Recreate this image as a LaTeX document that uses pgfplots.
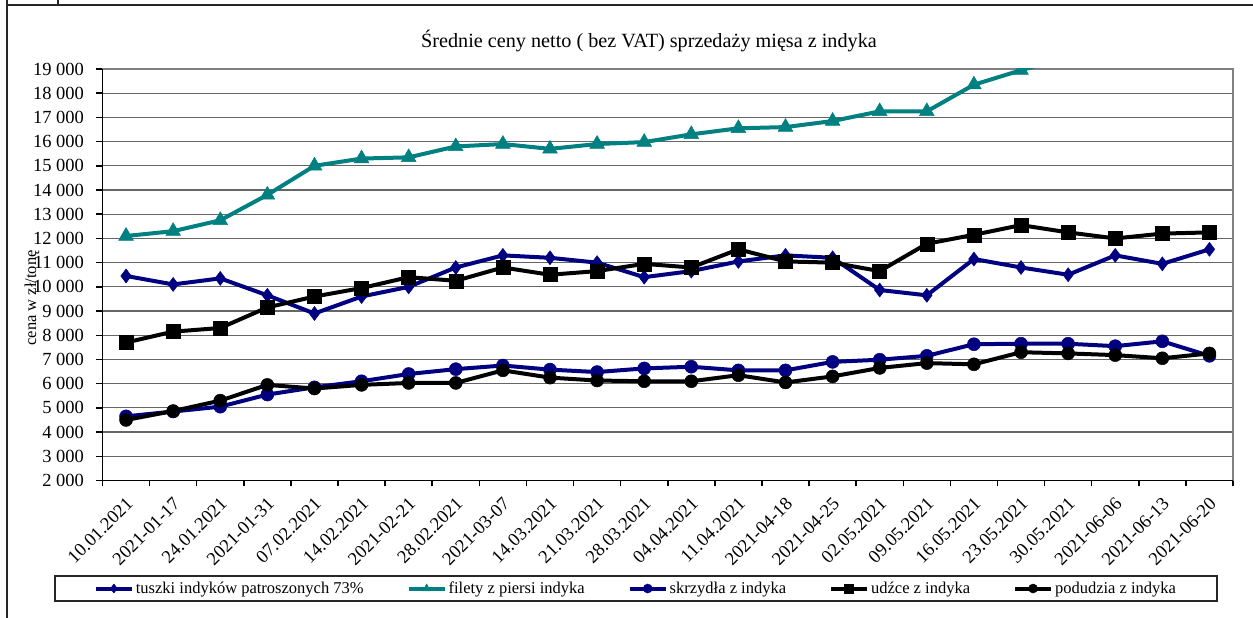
\documentclass[border=0pt]{standalone}
\usepackage{fontspec}
\setmainfont{Liberation Serif}
\usepackage{pgfplots}
\pgfplotsset{compat=1.18}
\usepackage{pgfplotstable}

\definecolor{granat}{RGB}{0,0,128}
\definecolor{morski}{RGB}{0,128,128}

% ceny w zl/tone, tygodniowo
\pgfplotstableread{
i  tuszki filety skrzydla udzce podudzia
0  10450  12100  4650     7700  4500
1  10100  12300  4850     8150  4870
2  10350  12750  5050     8300  5300
3  9650   13800  5550     9150  5950
4  8900   15000  5850     9600  5800
5  9600   15300  6100     9950  5950
6  10000  15350  6400     10400 6030
7  10800  15800  6600     10250 6030
8  11300  15900  6750     10800 6550
9  11200  15700  6580     10500 6250
10 11000  15900  6480     10650 6130
11 10400  15980  6630     10950 6100
12 10650  16300  6700     10800 6100
13 11050  16550  6550     11550 6350
14 11300  16600  6550     11050 6050
15 11200  16850  6900     11000 6300
16 9870   17250  6990     10650 6650
17 9650   17250  7150     11780 6850
18 11150  18350  7630     12150 6800
19 10800  18950  7650     12550 7300
20 10500  19500  7650     12250 7250
21 11300  19150  7550     12000 7180
22 10950  19450  7750     12200 7050
23 11550  19650  7150     12250 7250
}\ceny

\begin{document}
\begin{tikzpicture}[x=1pt,y=1pt]
\useasboundingbox (0,0) rectangle (1253,618);
\begin{axis}[
    at={(102.5pt,137.5pt)}, anchor=south west,
    scale only axis, width=1130.5pt, height=411.5pt,
    xmin=-0.5, xmax=23.5, ymin=2000, ymax=19000,
    xtick={-0.5,0.5,...,23.5},
    x tick label as interval,
    xticklabels={10.01.2021,2021-01-17,24.01.2021,2021-01-31,07.02.2021,14.02.2021,2021-02-21,28.02.2021,2021-03-07,14.03.2021,21.03.2021,28.03.2021,04.04.2021,11.04.2021,2021-04-18,2021-04-25,02.05.2021,09.05.2021,16.05.2021,23.05.2021,30.05.2021,2021-06-06,2021-06-13,2021-06-20},
    ytick={2000,3000,...,19000},
    scaled y ticks=false,
    /pgf/number format/1000 sep={\ },
    /pgf/number format/assume math mode=true,
    axis line style={draw=black!50, line width=1.5pt},
    ymajorgrids, grid style={black!60, line width=1.2pt},
    tick style={black, line width=1.5pt},
    major tick length=6pt, tick align=outside,
    xtick pos=bottom, ytick pos=left,
    tick label style={font=\fontsize{18.5}{20}\selectfont},
    yticklabel style={xshift=-9pt},
    xticklabel style={xshift=6pt, yshift=-12pt, rotate=45, anchor=east},
    title={Średnie ceny netto ( bez VAT) sprzedaży mięsa z indyka},
    title style={at={(0.4834,1.038)}, anchor=base, yshift=0pt, font=\fontsize{20.2}{23}\selectfont},
    ylabel={cena w zł/tonę},
    every axis y label/.style={at={(axis description cs:-0.0624,0.4435)}, rotate=90, anchor=center, font=\fontsize{16.5}{18}\selectfont},
    clip marker paths=true,
    legend columns=5,
    legend cell align=left,
    legend style={at={(0.4719,-0.2625)}, anchor=center, draw=black!85, line width=1.2pt,
        font=\fontsize{16.5}{19}\selectfont, inner xsep=39pt, inner ysep=4pt,
        /tikz/every even column/.append style={column sep=41pt}},
    legend image code/.code={\draw[mark repeat=2,mark phase=2,#1,mark size=4.5pt] plot coordinates {(0pt,0pt) (18pt,0pt) (36pt,0pt)};},
]
\addplot[granat, line width=4pt, mark=diamond*, mark size=7pt, mark options={solid, line width=0.5pt}]
    table[x=i, y=tuszki]{\ceny};
\addlegendentry{tuszki indyków patroszonych 73\%}
\addplot[morski, line width=4pt, mark=triangle*, mark size=8.5pt, mark options={solid, line width=0.5pt}]
    table[x=i, y=filety]{\ceny};
\addlegendentry{filety z piersi indyka}
\addplot[granat, line width=4pt, mark=*, mark size=6.5pt, mark options={solid, line width=0.5pt}]
    table[x=i, y=skrzydla]{\ceny};
\addlegendentry{skrzydła z indyka}
\addplot[black, line width=4pt, mark=square*, mark size=7pt, mark options={solid, line width=0.5pt}]
    table[x=i, y=udzce]{\ceny};
\addlegendentry{udźce z indyka}
\addplot[black, line width=4pt, mark=*, mark size=6.5pt, mark options={solid, line width=0.5pt}]
    table[x=i, y=podudzia]{\ceny};
\addlegendentry{podudzia z indyka}
\end{axis}
% czarne osie lewa i dolna
\draw[black, line width=1.8pt] (102.5,549) -- (102.5,137.5) -- (1233,137.5);
% ramka tabeli
\draw[black!85, line width=1.5pt] (7,0) -- (7,618);
\draw[black!85, line width=2pt] (7,613) -- (1253,613);
\draw[black!85, line width=1.5pt] (58,618) -- (58,613);
\end{tikzpicture}
\end{document}
